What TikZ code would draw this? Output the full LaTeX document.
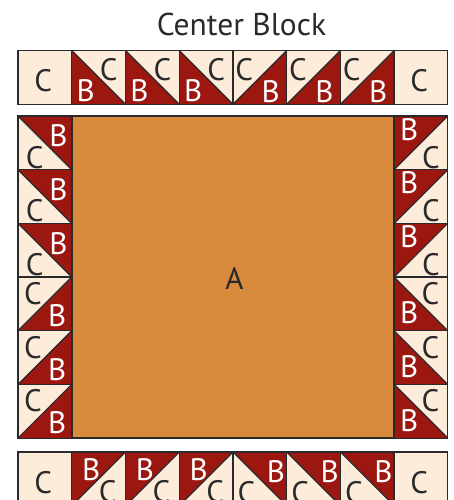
\documentclass[tikz,border=0pt]{standalone}
\usepackage{fontspec}
\setmainfont{PT Sans}
\definecolor{qred}{HTML}{9B1710}
\definecolor{qcream}{HTML}{FDECD9}
\definecolor{qorange}{HTML}{D88B3C}
\definecolor{qline}{HTML}{2A2A2A}
\newcommand\sz{53.75}
\tikzset{
  edge/.style={draw=qline, line width=1.2pt, line join=miter},
  lblB/.style={text=white, font=\fontsize{31}{31}\selectfont, inner sep=0pt},
  lblC/.style={text=qline, font=\fontsize{31}{31}\selectfont, inner sep=0pt},
  ttl/.style={text=qline, font=\fontsize{31.5}{31.5}\selectfont, inner sep=0pt, anchor=base},
}
% name, x, y, diag start, diag end, red corner, B pos, C pos
\newcommand\HST[8]{%
  \begin{scope}[shift={(#2,#3)}, x=\sz pt, y=-\sz pt]
    \fill[qcream] (0,0) rectangle (1,1);
    \fill[qred] #4 -- #5 -- #6 -- cycle;
    \draw[edge] #4 -- #5;
    \draw[edge] (0,0) rectangle (1,1);
    \node[lblB] (#1B) at #7 {B};
    \node[lblC] (#1C) at #8 {C};
  \end{scope}}
% name, x, y
\newcommand\PLN[3]{%
  \begin{scope}[shift={(#2,#3)}, x=\sz pt, y=-\sz pt]
    \fill[qcream] (0,0) rectangle (1,1);
    \draw[edge] (0,0) rectangle (1,1);
    \node[lblC] (#1C) at (0.47,0.57) {C};
  \end{scope}}
\begin{document}
\begin{tikzpicture}[x=1pt, y=-1pt]
  \useasboundingbox (0,0) rectangle (453,500);
  \clip (0,0) rectangle (453,500);
  \node[ttl] (title) at (241.5,36) {Center Block};
  % top row
  \PLN{t1}{18}{50.5}
  \foreach \i in {1,2,3}{
    \HST{t\i x}{18+\i*\sz}{50.5}{(0,0)}{(1,1)}{(0,1)}{(0.26,0.74)}{(0.69,0.35)}
  }
  \foreach \i in {4,5,6}{
    \HST{t\i x}{18+\i*\sz}{50.5}{(1,0)}{(0,1)}{(1,1)}{(0.70,0.77)}{(0.21,0.35)}
  }
  \PLN{t8}{394}{50.5}
  % center
  \fill[qorange] (72,116) rectangle (394,438);
  \draw[edge] (72,116) rectangle (394,438);
  \node[text=qline, font=\fontsize{31}{31}\selectfont, inner sep=0pt] (A) at (234.5,278) {A};
  % left column
  \foreach \k in {0,1,2}{
    \HST{l\k x}{18}{116+\k*53.67}{(0,0)}{(1,1)}{(1,0)}{(0.75,0.37)}{(0.31,0.77)}
  }
  \foreach \k in {3,4,5}{
    \HST{l\k x}{18}{116+\k*53.67}{(1,0)}{(0,1)}{(1,1)}{(0.73,0.72)}{(0.28,0.31)}
  }
  % right column
  \foreach \k in {0,1,2}{
    \HST{r\k x}{394}{116+\k*53.67}{(1,0)}{(0,1)}{(0,0)}{(0.28,0.25)}{(0.69,0.77)}
  }
  \foreach \k in {3,4,5}{
    \HST{r\k x}{394}{116+\k*53.67}{(0,0)}{(1,1)}{(0,1)}{(0.28,0.67)}{(0.68,0.31)}
  }
  % bottom row
  \PLN{b1}{18}{452}
  \foreach \i in {1,2,3}{
    \HST{b\i x}{18+\i*\sz}{452}{(1,0)}{(0,1)}{(0,0)}{(0.36,0.33)}{(0.67,0.74)}
  }
  \foreach \i in {4,5,6}{
    \HST{b\i x}{18+\i*\sz}{452}{(0,0)}{(1,1)}{(1,0)}{(0.80,0.37)}{(0.25,0.75)}
  }
  \PLN{b8}{394}{452}
\end{tikzpicture}
\end{document}
